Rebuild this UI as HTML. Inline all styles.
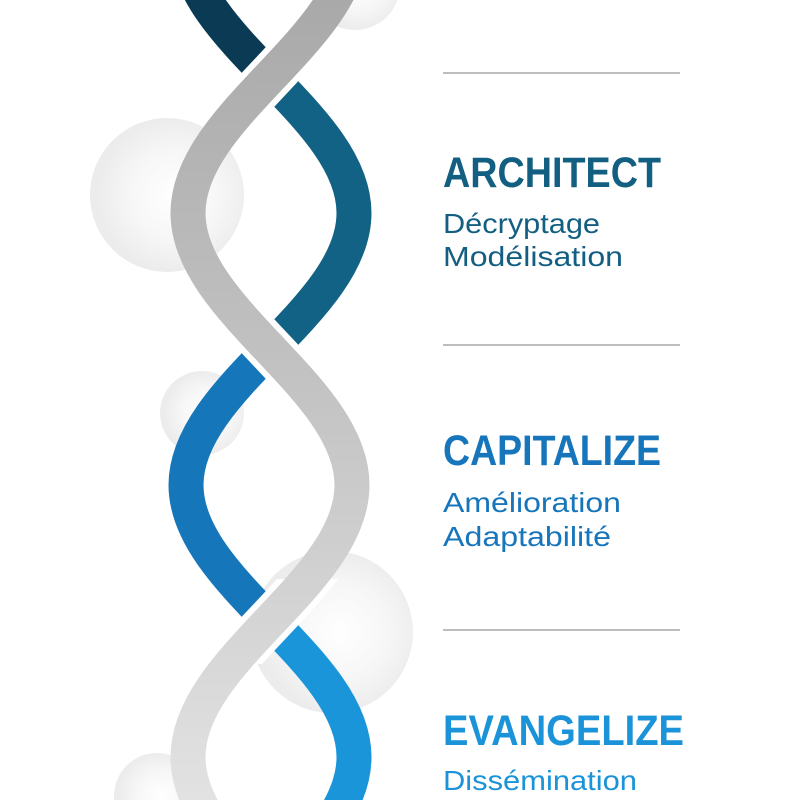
<!DOCTYPE html>
<html><head><meta charset="utf-8"><style>html,body{margin:0;padding:0;background:#fff;width:800px;height:800px;overflow:hidden}svg{display:block;overflow:hidden}</style></head><body>
<svg width="800" height="800" viewBox="0 0 800 800" xmlns="http://www.w3.org/2000/svg">
<defs>
<radialGradient id="bub" cx="0.55" cy="0.5" r="0.5"><stop offset="0" stop-color="#ffffff"/><stop offset="0.6" stop-color="#f6f6f6"/><stop offset="1" stop-color="#ececec"/></radialGradient>
<linearGradient id="gr" gradientUnits="userSpaceOnUse" x1="0" y1="0" x2="0" y2="800"><stop offset="0" stop-color="#a9a9a9"/><stop offset="0.5" stop-color="#c4c4c4"/><stop offset="1" stop-color="#e2e2e2"/></linearGradient>
<clipPath id="all"><rect x="0" y="0" width="800" height="800"/></clipPath>
<clipPath id="c1"><rect x="0" y="0" width="800" height="77"/></clipPath>
<clipPath id="c2"><rect x="0" y="77" width="800" height="272"/></clipPath>
<clipPath id="c3"><rect x="0" y="349" width="800" height="272"/></clipPath>
<clipPath id="c4"><rect x="0" y="621" width="800" height="179"/></clipPath>
<clipPath id="cx"><rect x="0" y="35" width="800" height="85"/><rect x="0" y="307" width="800" height="85"/><rect x="0" y="579" width="800" height="85"/></clipPath>
</defs>
<g clip-path="url(#all)">
<circle cx="167" cy="195" r="77" fill="url(#bub)"/>
<circle cx="355" cy="-15" r="45" fill="url(#bub)"/>
<circle cx="202" cy="413" r="42" fill="url(#bub)"/>
<circle cx="332" cy="632" r="81" fill="url(#bub)"/>
<circle cx="157" cy="796" r="43" fill="url(#bub)"/>
<g fill="none" stroke-width="35">
<path d="M186,-59 C186,39 354,115 354,213 C354,311 186,387 186,485 C186,583 354,659 354,757 C354,855 186,931 186,1029" stroke="#0b3a55" clip-path="url(#c1)"/>
<path d="M186,-59 C186,39 354,115 354,213 C354,311 186,387 186,485 C186,583 354,659 354,757 C354,855 186,931 186,1029" stroke="#126285" clip-path="url(#c2)"/>
<path d="M186,-59 C186,39 354,115 354,213 C354,311 186,387 186,485 C186,583 354,659 354,757 C354,855 186,931 186,1029" stroke="#1676ba" clip-path="url(#c3)"/>
<path d="M186,-59 C186,39 354,115 354,213 C354,311 186,387 186,485 C186,583 354,659 354,757 C354,855 186,931 186,1029" stroke="#1a95da" clip-path="url(#c4)"/>
<path d="M352,-59 C352,39 188,115 188,213 C188,311 352,387 352,485 C352,583 188,659 188,757 C188,855 352,931 352,1029" stroke="#fff" stroke-width="47" clip-path="url(#cx)"/>
<path d="M352,-59 C352,39 188,115 188,213 C188,311 352,387 352,485 C352,583 188,659 188,757 C188,855 352,931 352,1029" stroke="url(#gr)"/>
</g>
<g stroke="#bdbdbd" stroke-width="2">
<line x1="443" y1="73" x2="680" y2="73"/>
<line x1="443" y1="345" x2="680" y2="345"/>
<line x1="443" y1="630" x2="680" y2="630"/>
</g>
<g font-family="Liberation Sans, sans-serif">
<text x="443" y="187" font-size="43" font-weight="bold" fill="#135f82" textLength="218" lengthAdjust="spacingAndGlyphs">ARCHITECT</text>
<text x="443" y="233" font-size="28" fill="#135f82" textLength="157" lengthAdjust="spacingAndGlyphs">Décryptage</text>
<text x="443" y="266" font-size="28" fill="#135f82" textLength="180" lengthAdjust="spacingAndGlyphs">Modélisation</text>
<text x="443" y="465" font-size="43" font-weight="bold" fill="#1675bb" textLength="218" lengthAdjust="spacingAndGlyphs">CAPITALIZE</text>
<text x="443" y="512" font-size="28" fill="#1675bb" textLength="178" lengthAdjust="spacingAndGlyphs">Amélioration</text>
<text x="443" y="546" font-size="28" fill="#1675bb" textLength="168" lengthAdjust="spacingAndGlyphs">Adaptabilité</text>
<text x="443" y="745" font-size="43" font-weight="bold" fill="#1a93d8" textLength="241" lengthAdjust="spacingAndGlyphs">EVANGELIZE</text>
<text x="443" y="790" font-size="28" fill="#1a93d8" textLength="194" lengthAdjust="spacingAndGlyphs">Dissémination</text>
</g>
</g>
</svg>
</body></html>
